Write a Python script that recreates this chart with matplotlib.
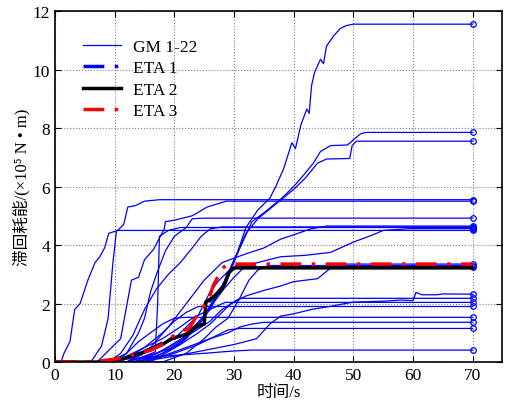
import numpy as np
import matplotlib
matplotlib.use('Agg')
import matplotlib.pyplot as plt

plt.rcParams['font.family'] = ['Liberation Serif', 'Noto Sans CJK SC', 'DejaVu Sans']

# GM 1-22 hysteretic energy curves (time s, energy x1e5 N*m)
gm_curves = [
    [(0, 0), (14, 0), (18, 0.3), (22, 0.8), (26, 1.8), (28, 2.6), (30, 3.4), (32, 4.6), (34, 5.2), (36, 5.6),
     (37, 6.0), (38.3, 6.6), (39.7, 7.5), (40.3, 7.3), (41.2, 8.1), (42.2, 8.65), (42.6, 8.5), (43, 9.45),
     (43.5, 9.9), (44.5, 10.35), (45, 10.2), (45.5, 10.8), (46.7, 11.15), (47.8, 11.4), (48.8, 11.5),
     (50, 11.55), (70, 11.55)],
    [(0, 0), (15, 0), (20, 0.5), (24, 1.2), (27, 2.2), (29, 3.0), (31, 3.9), (33, 4.8), (35, 5.1), (38, 5.6),
     (40, 6.0), (41.7, 6.4), (43.3, 6.8), (44.5, 7.2), (46.2, 7.4), (49, 7.42), (49.5, 7.5), (50, 7.6),
     (51.2, 7.8), (52, 7.85), (70, 7.85)],
    [(0, 0), (16, 0), (21, 0.6), (25, 1.6), (28, 2.6), (30, 3.5), (32, 4.4), (34, 4.9), (37, 5.4), (40, 5.9),
     (42, 6.3), (44, 6.8), (45.5, 6.94), (49.4, 6.96), (49.8, 7.4), (50.5, 7.55), (70, 7.55)],
    [(0, 0), (1, 0), (1.5, 0.3), (2.5, 0.7), (3.3, 1.8), (4.2, 2.0), (5.5, 2.8), (6.7, 3.4), (7.5, 3.6),
     (8.3, 3.9), (9, 4.4), (10.5, 4.5), (11.5, 4.7), (12.2, 5.3), (13.5, 5.35), (15, 5.5), (17.5, 5.55),
     (70, 5.55)],
    [(0, 0), (7, 0), (9, 0.4), (11, 0.8), (12.8, 2.8), (14, 2.9), (15, 3.5), (16.5, 3.85), (18.3, 4.55),
     (18.5, 4.8), (20, 4.85), (23, 5.0), (25.5, 5.3), (28.7, 5.5), (31, 5.5), (70, 5.5)],
    [(0, 0), (10, 0), (12, 0.3), (14, 1.0), (15, 1.5), (16, 2.4), (17, 3.0), (18.5, 3.8), (20, 4.3),
     (22, 4.6), (23, 4.9), (25, 4.92), (70, 4.92)],
    [(0, 0), (12, 0), (16, 0.5), (19, 1.2), (22, 2.0), (25, 2.8), (28, 3.4), (32, 3.7), (35, 3.9),
     (37.8, 4.2), (40, 4.35), (42.8, 4.55), (45.5, 4.65), (70, 4.65)],
    [(0, 0), (14, 0), (18, 0.4), (22, 0.9), (25, 1.6), (28.3, 2.5), (30, 2.9), (32, 3.3), (37.8, 3.6),
     (42, 3.65), (46.2, 3.75), (50, 4.1), (53.3, 4.35), (55, 4.5), (59.4, 4.56), (70, 4.56)],
    [(0, 0), (12, 0), (15, 0.2), (16.8, 0.35), (17.2, 2.0), (17.5, 4.3), (19, 4.5), (21, 4.6), (70, 4.6)],
    [(0, 0), (6, 0), (7.8, 0.55), (8.9, 1.5), (9.7, 3.4), (10.3, 4.5), (70, 4.5)],
    [(0, 0), (13, 0), (17, 0.3), (20, 0.6), (23, 1.0), (26, 1.4), (28, 1.8), (30, 2.05), (32, 2.26),
     (35, 2.45), (37.8, 2.6), (40, 2.75), (44, 2.85), (45.5, 3.1), (46.7, 3.3), (48, 3.35), (70, 3.35)],
    [(0, 0), (12, 0), (16, 0.4), (20, 0.8), (24, 1.6), (26, 2.4), (27.5, 2.8), (29, 3.1), (30.5, 3.25),
     (70, 3.25)],
    [(0, 0), (9, 0), (11, 0.3), (13, 0.9), (15, 1.8), (17, 2.5), (19, 3.0), (21, 3.4), (23, 3.9),
     (24.5, 4.3), (26, 4.55), (28, 4.62), (70, 4.62)],
    [(0, 0), (14, 0), (20, 0.2), (25, 0.4), (30, 0.6), (33.8, 0.8), (36, 1.3), (37.8, 1.57), (40, 1.65),
     (43, 1.8), (46, 1.9), (50, 2.05), (55, 2.08), (58, 2.12), (60, 2.1), (60.5, 2.38), (61.5, 2.3),
     (64, 2.3), (65, 2.33), (70, 2.32)],
    [(0, 0), (12, 0), (17, 0.3), (21, 0.6), (24, 1.0), (26, 1.3), (28, 1.7), (29.5, 2.0), (31, 2.18),
     (70, 2.18)],
    [(0, 0), (10, 0), (14, 0.4), (18, 0.8), (21, 1.2), (23, 1.5), (25, 1.7), (27, 1.9), (28.5, 2.04),
     (70, 2.04)],
    [(0, 0), (11, 0), (15, 0.5), (18, 1.0), (20, 1.4), (22, 1.7), (24, 1.9), (70, 1.9)],
    [(0, 0), (9, 0), (12, 0.3), (14, 0.7), (16, 1.0), (18, 1.3), (20, 1.5), (22, 1.53), (70, 1.53)],
    [(0, 0), (13, 0), (18, 0.2), (22, 0.5), (26, 0.8), (29, 1.0), (31, 1.2), (33, 1.3), (35, 1.36),
     (70, 1.36)],
    [(0, 0), (15, 0), (20, 0.3), (24, 0.6), (27, 0.9), (29, 1.1), (31, 1.15), (70, 1.15)],
    [(0, 0), (8, 0), (12, 0.1), (18, 0.2), (25, 0.3), (30, 0.38), (33, 0.41), (70, 0.41)],
    [(0, 0), (18, 0), (22, 0.3), (25, 0.8), (27, 1.2), (29, 1.5), (31, 2.2), (32.5, 2.8), (34, 3.15),
     (36, 3.3), (70, 3.3)],
]

eta1 = [(0, 0), (7, 0), (10, 0.05), (13, 0.2), (16, 0.45), (19, 0.75), (22, 0.95), (23.5, 1.2),
        (25, 1.3), (25.4, 2.0), (26.5, 2.2), (28, 2.55), (29.2, 3.1), (30, 3.26), (70, 3.26)]
eta2 = [(0, 0), (7, 0), (10, 0.05), (12.8, 0.2), (15, 0.35), (16.7, 0.5), (18, 0.6), (19.5, 0.8),
        (22, 0.95), (23.5, 1.2), (25, 1.3), (25.3, 2.05), (26, 2.15), (27, 2.3), (28, 2.5), (28.5, 2.7),
        (29.2, 3.07), (30, 3.22), (70, 3.22)]
eta3 = [(0, 0), (6, 0), (10, 0.1), (13, 0.25), (16, 0.4), (18, 0.6), (19.5, 0.85), (21, 1.05),
        (22.5, 1.15), (23.5, 1.5), (24.5, 1.85), (25.5, 2.0), (26.5, 2.6), (27.5, 3.0), (28, 3.2),
        (29, 3.35), (70, 3.35)]

fig = plt.figure(figsize=(5.05, 4.14), dpi=100)
ax = fig.add_axes([0.109, 0.123, 0.886, 0.848])

for i, c in enumerate(gm_curves):
    t, e = zip(*c)
    ax.plot(t, e, color=(0, 0, 1), lw=0.9, label='GM 1-22' if i == 0 else None)
    ax.plot(t[-1], e[-1], 'o', ms=4, mfc='none', mec=(0, 0, 1), mew=0.9)

t, e = zip(*eta1)
ax.plot(t, e, color=(0, 0, 1), lw=2.5, ls=(0, (6, 3, 1, 3)), label='ETA 1')
t, e = zip(*eta2)
ax.plot(t, e, color='black', lw=2.5, ls='-', label='ETA 2')
t, e = zip(*eta3)
ax.plot(t, e, color='red', lw=2.5, ls=(0, (6, 3, 1, 3)), label='ETA 3')

ax.set_xlim(0, 75)
ax.set_ylim(0, 12)
ax.set_xticks(np.arange(0, 71, 10))
ax.set_yticks(np.arange(0, 13, 2))
ax.tick_params(direction='in', top=True, right=True, labelsize=12.5, length=4)
ax.grid(True, ls=':', color='gray', lw=0.8)
for s in ax.spines.values():
    s.set_linewidth(1.2)

ax.set_xlabel('时间/s', fontsize=12, labelpad=1)
ax.set_ylabel('滞回耗能/(×10⁵ N • m)', fontsize=12, labelpad=2)

ax.legend(loc='upper left', frameon=False, fontsize=12.5, handlelength=2.2, handletextpad=0.7,
          borderaxespad=0.8, labelspacing=0.3, bbox_to_anchor=(0.015, 0.98))

fig.savefig('out.png', dpi=100)
